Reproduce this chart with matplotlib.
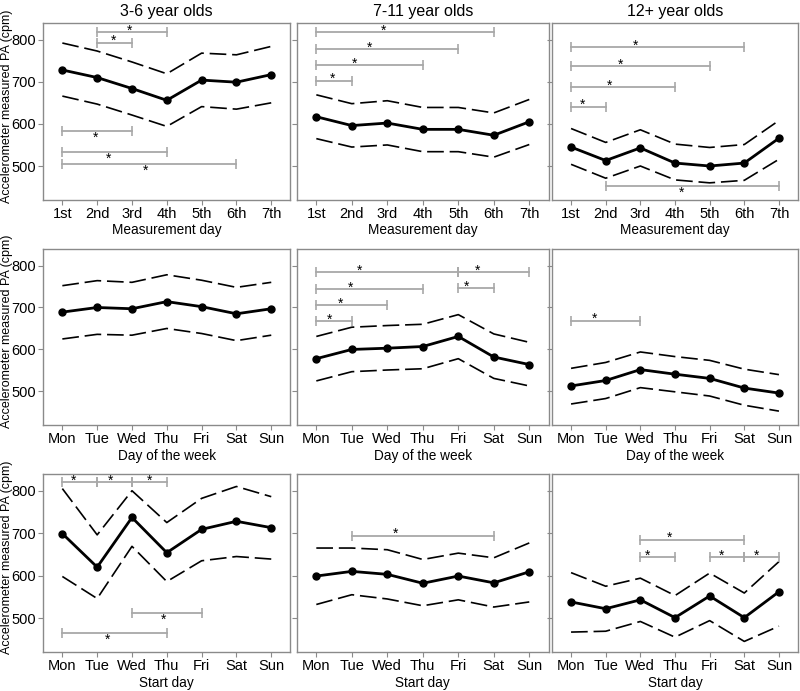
import matplotlib
matplotlib.use("Agg")
import matplotlib.pyplot as plt

plt.rcParams["font.family"] = ["Liberation Sans", "DejaVu Sans"]

measurement_days = ["1st", "2nd", "3rd", "4th", "5th", "6th", "7th"]
week_days = ["Mon", "Tue", "Wed", "Thu", "Fri", "Sat", "Sun"]
age_groups = ["3-6 year olds", "7-11 year olds", "12+ year olds"]
row_xlabels = ["Measurement day", "Day of the week", "Start day"]

# row 1: measurement day
meas_36_mean = [728, 710, 684, 656, 704, 699, 717]
meas_36_hi = [792, 773, 747, 719, 768, 764, 784]
meas_36_lo = [666, 647, 621, 594, 641, 635, 650]
meas_711_mean = [617, 596, 602, 587, 587, 573, 605]
meas_711_hi = [669, 648, 655, 639, 639, 626, 658]
meas_711_lo = [565, 545, 550, 534, 534, 521, 551]
meas_12_mean = [545, 513, 543, 507, 500, 507, 566]
meas_12_hi = [589, 556, 586, 552, 544, 551, 608]
meas_12_lo = [504, 471, 500, 467, 460, 466, 516]

# row 2: day of the week
dow_36_mean = [689, 700, 697, 714, 702, 685, 697]
dow_36_hi = [752, 764, 760, 778, 765, 748, 760]
dow_36_lo = [625, 636, 634, 650, 638, 621, 634]
dow_711_mean = [578, 600, 603, 607, 631, 582, 564]
dow_711_hi = [631, 653, 657, 660, 683, 637, 617]
dow_711_lo = [525, 547, 551, 554, 578, 531, 513]
dow_12_mean = [513, 526, 552, 541, 531, 508, 496]
dow_12_hi = [555, 569, 594, 583, 574, 553, 540]
dow_12_lo = [470, 483, 509, 499, 489, 467, 453]

# row 3: start day
start_36_mean = [699, 620, 737, 654, 709, 728, 713]
start_36_hi = [805, 696, 800, 725, 782, 810, 786]
start_36_lo = [598, 546, 669, 586, 635, 645, 639]
start_711_mean = [599, 610, 603, 582, 599, 583, 609]
start_711_hi = [665, 665, 661, 638, 653, 642, 677]
start_711_lo = [532, 555, 545, 529, 543, 526, 538]
start_12_mean = [538, 522, 543, 501, 552, 501, 562]
start_12_hi = [607, 575, 594, 553, 606, 559, 633]
start_12_lo = [467, 469, 492, 455, 494, 445, 481]

# significance brackets: (from, to, level cpm, star x, star above line)
meas_36_sig = [(1, 3, 818, 1.93, True), (1, 2, 793, 1.48, True),
               (0, 2, 584, 0.94, False), (0, 3, 534, 1.32, False),
               (0, 5, 504, 2.38, False)]
meas_711_sig = [(0, 5, 817, 1.88, True), (0, 4, 777, 1.50, True),
                (0, 3, 740, 1.07, True), (0, 1, 703, 0.46, True)]
meas_12_sig = [(0, 5, 782, 1.85, True), (0, 4, 738, 1.42, True),
               (0, 3, 687, 1.10, True), (0, 1, 641, 0.33, True),
               (1, 6, 453, 3.19, False)]
dow_36_sig = []
dow_711_sig = [(0, 4, 784, 1.22, True), (4, 6, 784, 4.54, True),
               (0, 3, 744, 0.95, True), (4, 5, 746, 4.24, True),
               (0, 2, 705, 0.67, True), (0, 1, 668, 0.36, True)]
dow_12_sig = [(0, 2, 669, 0.68, True)]
start_36_sig = [(0, 1, 820, 0.31, True), (1, 2, 820, 1.37, True),
                (2, 3, 820, 2.51, True), (2, 4, 512, 2.92, False),
                (0, 3, 464, 1.30, False)]
start_711_sig = [(1, 5, 694, 2.22, True)]
start_12_sig = [(2, 5, 685, 2.83, True), (2, 3, 644, 2.22, True),
                (4, 5, 644, 4.33, True), (5, 6, 644, 5.36, True)]

panels = [
    [(meas_36_mean, meas_36_hi, meas_36_lo, meas_36_sig),
     (meas_711_mean, meas_711_hi, meas_711_lo, meas_711_sig),
     (meas_12_mean, meas_12_hi, meas_12_lo, meas_12_sig)],
    [(dow_36_mean, dow_36_hi, dow_36_lo, dow_36_sig),
     (dow_711_mean, dow_711_hi, dow_711_lo, dow_711_sig),
     (dow_12_mean, dow_12_hi, dow_12_lo, dow_12_sig)],
    [(start_36_mean, start_36_hi, start_36_lo, start_36_sig),
     (start_711_mean, start_711_hi, start_711_lo, start_711_sig),
     (start_12_mean, start_12_hi, start_12_lo, start_12_sig)],
]
row_ticklabels = [measurement_days, week_days, week_days]

col_lefts = [0.054, 0.371, 0.690]
col_widths = [0.309, 0.315, 0.3075]
row_bottoms = [0.711, 0.385, 0.0564]
row_heights = [0.256, 0.255, 0.258]

frame = "#8a8a8a"
bracket = "#a8a8a8"

fig = plt.figure(figsize=(8, 6.91), dpi=100)

for r in range(3):
    for c in range(3):
        mean, hi, lo, sig = panels[r][c]
        ax = fig.add_axes([col_lefts[c], row_bottoms[r], col_widths[c], row_heights[r]])
        x = list(range(7))
        ax.plot(x, hi, color="black", lw=1.2, dashes=(10, 3.5))
        ax.plot(x, lo, color="black", lw=1.2, dashes=(10, 3.5))
        ax.plot(x, mean, color="black", lw=2, marker="o", markersize=5)
        for i, j, level, sx, above in sig:
            ax.plot([i, j], [level, level], color=bracket, lw=1.3,
                    marker="|", markersize=7, markeredgewidth=1.2)
            ax.annotate("*", (sx, level), xytext=(0, -4 if above else -10),
                        textcoords="offset points", ha="center", va="bottom",
                        fontsize=10)
        ax.set_xlim(-0.55, 6.55)
        ax.set_ylim(420, 840)
        ax.set_xticks(x)
        ax.set_xticklabels(row_ticklabels[r], fontsize=10.5)
        ax.set_yticks([500, 600, 700, 800])
        if c == 0:
            ax.tick_params(axis="y", labelsize=10.5)
            ax.set_ylabel("Accelerometer measured PA (cpm)", fontsize=9)
            ax.yaxis.set_label_coords(-0.122, 0.53)
        else:
            ax.set_yticklabels([])
        ax.set_xlabel(row_xlabels[r], fontsize=9.8, labelpad=2)
        if r == 0:
            ax.set_title(age_groups[c], fontsize=11.5, pad=5)
        for s in ax.spines.values():
            s.set_color(frame)
            s.set_linewidth(1)
        ax.tick_params(colors=frame, labelcolor="black", length=3.5, width=0.8, pad=1.5)

fig.savefig("out.png", dpi=100)
